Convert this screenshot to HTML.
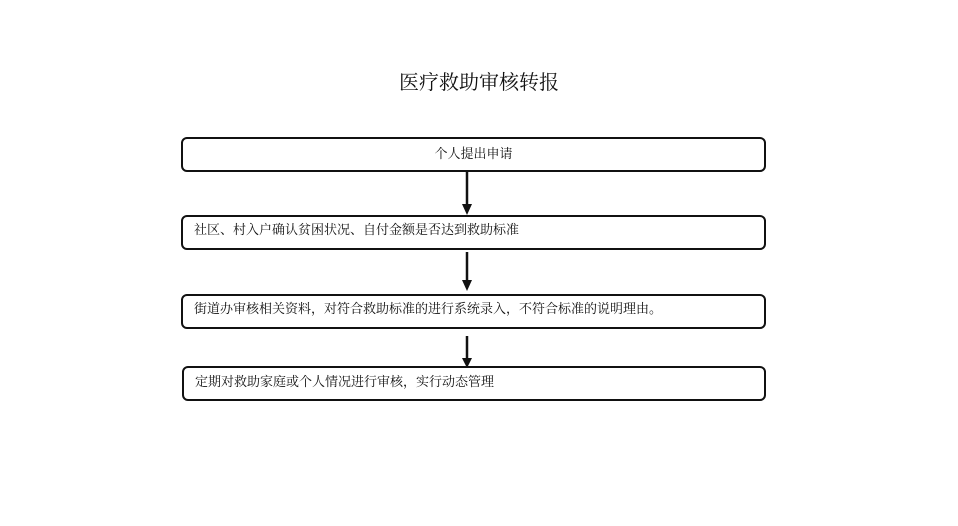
<!DOCTYPE html>
<html><head><meta charset="utf-8"><style>
body{margin:0;width:958px;height:526px;background:#fff;position:relative;font-family:"Liberation Serif","Noto Serif CJK SC",serif;color:#111}
.t{position:absolute;left:0;width:958px;top:66px;text-align:center;font-size:20px}
.b{position:absolute;border:2px solid #111;border-radius:6px;box-sizing:border-box;font-size:13px;line-height:15px;padding:5px 11px}
</style></head><body>
<div class="t">医疗救助审核转报</div>
<div class="b" style="left:181px;top:137px;width:585px;height:35px;text-align:center;padding-top:7px">个人提出申请</div>
<div class="b" style="left:181px;top:215px;width:585px;height:35px">社区、村入户确认贫困状况、自付金额是否达到救助标准</div>
<div class="b" style="left:181px;top:294px;width:585px;height:35px">街道办审核相关资料，对符合救助标准的进行系统录入，不符合标准的说明理由。</div>
<div class="b" style="left:182px;top:366px;width:584px;height:35px;padding-top:6px">定期对救助家庭或个人情况进行审核，实行动态管理</div>
<svg width="958" height="526" style="position:absolute;left:0;top:0">
<g stroke="#111" stroke-width="2.5" fill="#111">
<line x1="467" y1="172" x2="467" y2="206"/><polygon points="462,204 472,204 467,215" stroke="none"/>
<line x1="467" y1="252" x2="467" y2="282"/><polygon points="462,280 472,280 467,291" stroke="none"/>
<line x1="467" y1="336" x2="467" y2="360"/><polygon points="462,358 472,358 467,368" stroke="none"/>
</g></svg>
</body></html>
